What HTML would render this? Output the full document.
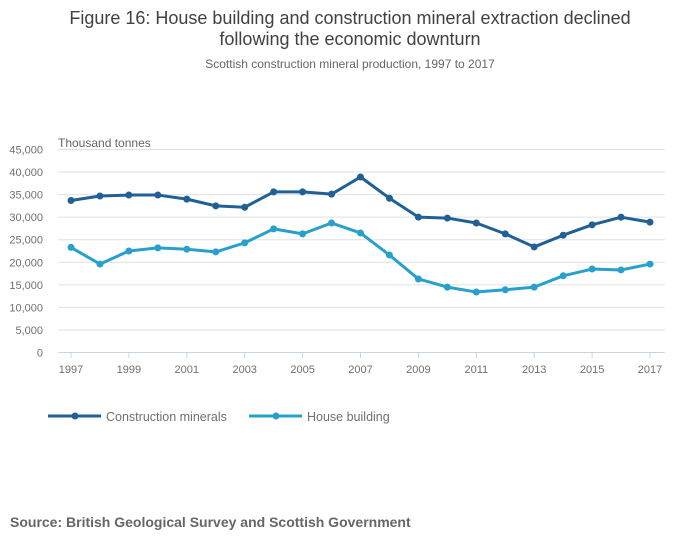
<!DOCTYPE html>
<html><head><meta charset="utf-8"><style>
body{margin:0;background:#fff;font-family:"Liberation Sans",sans-serif;}
svg text{font-family:"Liberation Sans",sans-serif;}
</style></head><body>
<svg id="chart" width="700" height="549" xmlns="http://www.w3.org/2000/svg">
<text x="350" y="24" text-anchor="middle" font-size="18" fill="#414042">Figure 16: House building and construction mineral extraction declined</text>
<text x="350" y="45" text-anchor="middle" font-size="18" fill="#414042">following the economic downturn</text>
<text x="350" y="68" text-anchor="middle" font-size="12" fill="#666">Scottish construction mineral production, 1997 to 2017</text>
<text x="58" y="147" font-size="12" fill="#666">Thousand tonnes</text>
<g id="grid"></g><g id="axes"></g><g id="series"></g>
<g>
<g>
<line x1="48" y1="416" x2="101" y2="416" stroke="#206095" stroke-width="3"/><circle cx="75" cy="416" r="3.5" fill="#206095"/>
<text x="106" y="421" font-size="12.5" fill="#707071">Construction minerals</text></g>
<g>
<line x1="249" y1="416" x2="302" y2="416" stroke="#27a0cc" stroke-width="3"/><circle cx="276" cy="416" r="3.5" fill="#27a0cc"/>
<text x="307" y="421" font-size="12.5" fill="#707071">House building</text></g>
</g>
<text x="10" y="527" font-size="14" font-weight="bold" fill="#666">Source: British Geological Survey and Scottish Government</text>
</svg>
<script>
const years=[1997,1998,1999,2000,2001,2002,2003,2004,2005,2006,2007,2008,2009,2010,2011,2012,2013,2014,2015,2016,2017];
const construction=[33700,34700,34900,34900,34000,32500,32200,35600,35600,35100,38900,34200,30000,29800,28700,26300,23400,26000,28300,30000,28900];
const house=[23300,19600,22500,23200,22900,22300,24300,27400,26300,28700,26500,21600,16300,14500,13400,13900,14500,17000,18500,18300,19600];
const yTicks=[0,5000,10000,15000,20000,25000,30000,35000,40000,45000];
const xTickYears=[1997,1999,2001,2003,2005,2007,2009,2011,2013,2015,2017];
const NS='http://www.w3.org/2000/svg';
const xS=y=>71+(y-1997)*(650-71)/20;
const yS=v=>352.5-v*(203/45000);
function mk(t,a,p){const e=document.createElementNS(NS,t);for(const k in a)e.setAttribute(k,a[k]);p.appendChild(e);return e;}
const grid=document.getElementById('grid'),axes=document.getElementById('axes'),ser=document.getElementById('series');
yTicks.forEach(v=>{
 if(v>0){const l=mk('line',{x1:58,x2:665,y1:yS(v),y2:yS(v),stroke:'#e0e0e0','stroke-width':1},grid);
 
 }
 const t=mk('text',{x:43,y:yS(v)+4,'text-anchor':'end','font-size':11,fill:'#707071'},axes);t.textContent=v.toLocaleString('en-GB');
 
 
});
const ax=mk('line',{x1:58,x2:665,y1:352.5,y2:352.5,stroke:'#c6d4e6','stroke-width':1},axes);


xTickYears.forEach(y=>{
 mk('line',{x1:xS(y),x2:xS(y),y1:352.5,y2:358,stroke:'#c6d4e6'},axes);
 const t=mk('text',{x:xS(y),y:373,'text-anchor':'middle','font-size':11,fill:'#707071'},axes);t.textContent=y;
 
 
});
function draw(vals,col,name){
 const g=mk('g',{},ser);
 
 
 const p=mk('polyline',{points:vals.map((v,i)=>xS(years[i])+','+yS(v)).join(' '),fill:'none',stroke:col,'stroke-width':3,'stroke-linejoin':'round'},g);
 
 
 vals.forEach((v,i)=>{const c=mk('circle',{cx:xS(years[i]),cy:yS(v),r:3.5,fill:col},g);
 
 });
}
draw(construction,'#206095','construction');
draw(house,'#27a0cc','house');
</script>
</body></html>
